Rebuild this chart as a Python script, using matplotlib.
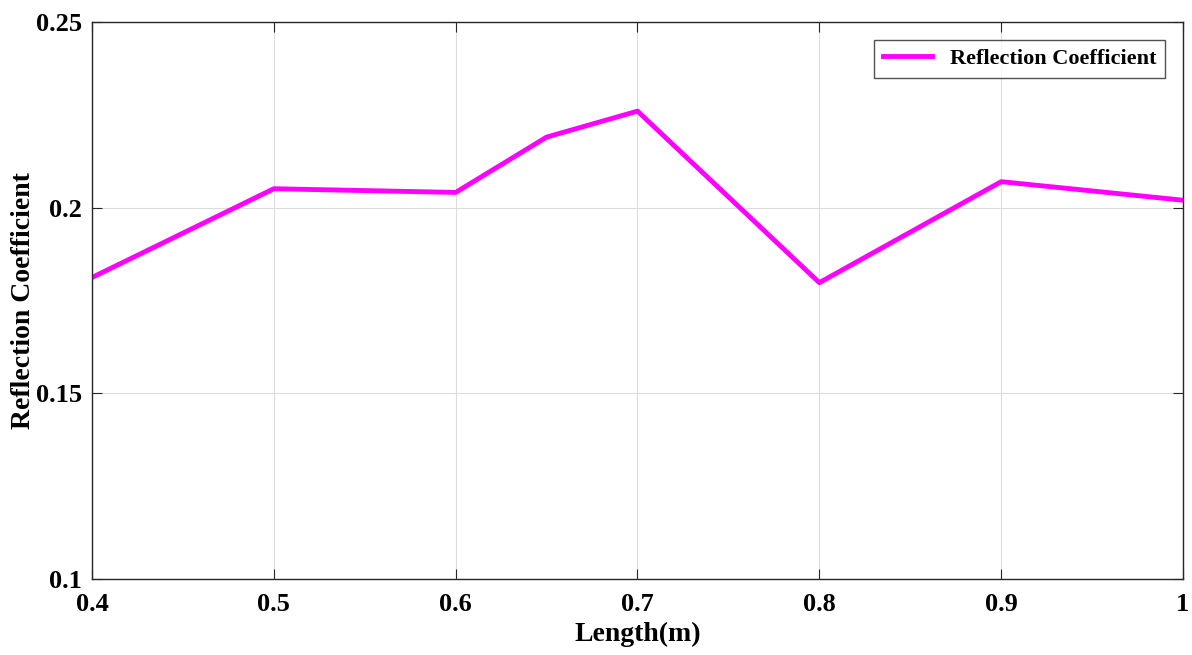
import matplotlib.pyplot as plt

# length (m) vs reflection coefficient
length = [0.4, 0.5, 0.6, 0.65, 0.7, 0.8, 0.9, 1.0]
refl_coef = [0.1812, 0.2051, 0.2041, 0.2190, 0.2260, 0.1798, 0.2070, 0.2020]

x_ticks = [0.4, 0.5, 0.6, 0.7, 0.8, 0.9, 1.0]
x_labels = ['0.4', '0.5', '0.6', '0.7', '0.8', '0.9', '1']
y_ticks = [0.1, 0.15, 0.2, 0.25]
y_labels = ['0.1', '0.15', '0.2', '0.25']

plt.rcParams['font.family'] = ['Liberation Serif', 'DejaVu Serif']
plt.rcParams['font.weight'] = 'bold'

fig = plt.figure(figsize=(11.92, 6.55), dpi=100)
ax = fig.add_axes([92/1192, 1 - 579/655, (1183 - 92)/1192, (579 - 22)/655])

ax.plot(length, refl_coef, color='#ff00ff', lw=3.5, label='Reflection Coefficient')

ax.set_xlim(0.4, 1.0)
ax.set_ylim(0.1, 0.25)
ax.set_xticks(x_ticks)
ax.set_xticklabels(x_labels)
ax.set_yticks(y_ticks)
ax.set_yticklabels(y_labels)
ax.tick_params(direction='in', top=True, right=True, length=7, labelsize=19,
               color='#262626')
ax.tick_params(axis='x', pad=10)
ax.tick_params(axis='y', pad=7)
ax.grid(True, color='#dcdcdc', lw=0.8)
for s in ax.spines.values():
    s.set_color('#262626')
    s.set_linewidth(1.0)

ax.set_xlabel('Length(m)', fontsize=20, fontweight='bold', labelpad=4)
ax.set_ylabel('Reflection Coefficient', fontsize=20, fontweight='bold', va='center')
ax.yaxis.set_label_coords(-0.063, 0.5)

leg = ax.legend(loc='upper right', fontsize=16, frameon=True, fancybox=False,
                edgecolor='#262626', borderaxespad=0.8, handlelength=2.2)
leg.get_frame().set_linewidth(1.0)

fig.savefig('out.png', dpi=100)
